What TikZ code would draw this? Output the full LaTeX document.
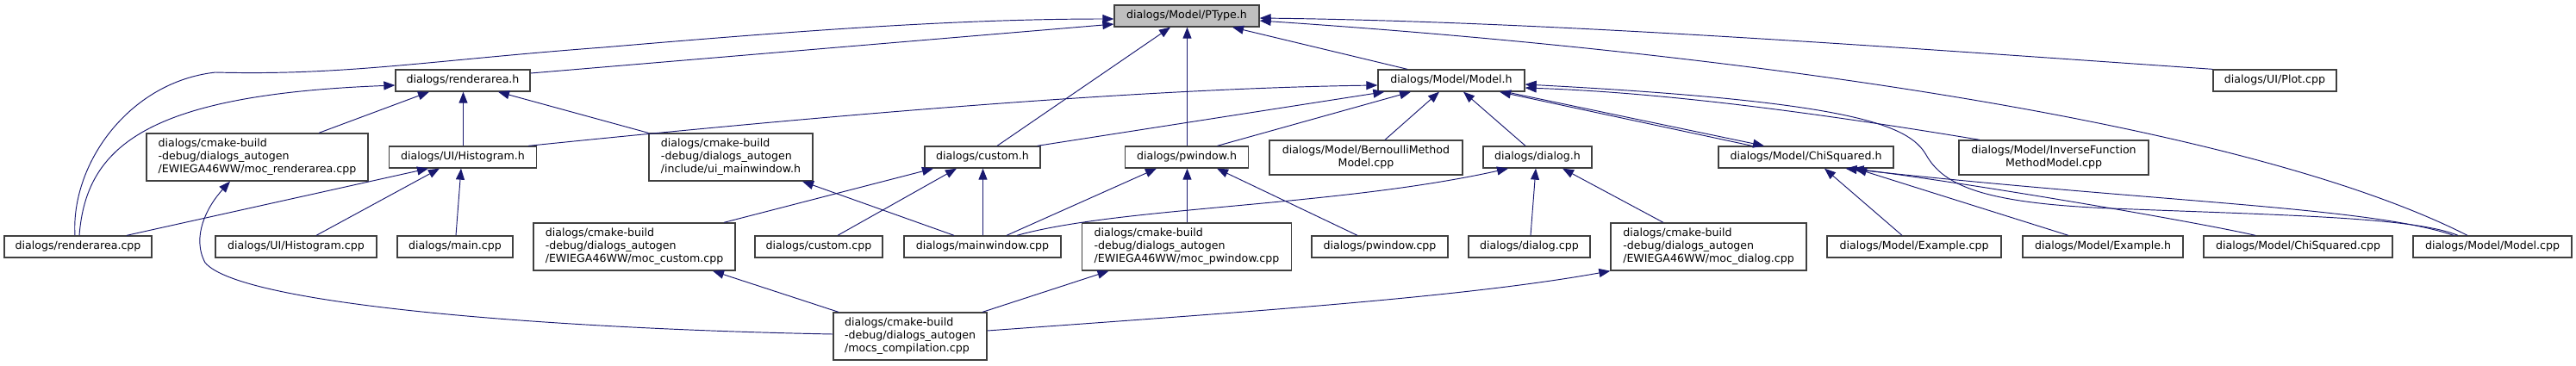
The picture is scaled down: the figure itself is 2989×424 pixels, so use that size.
\documentclass[tikz,border=0pt]{standalone}
\usepackage{fontspec}
\setmainfont{DejaVu Sans}
\usetikzlibrary{arrows.meta}
\definecolor{edgeblue}{HTML}{191970}
\definecolor{rootgray}{HTML}{BFBFBF}
\tikzset{
  filebox/.style={draw=black!75, line width=1.3pt, fill=white, inner sep=0pt,
    minimum height=25pt, font=\fontsize{12.6}{15}\selectfont},
  mocbox/.style={filebox, minimum height=55pt, align=left},
  dep/.style={edgeblue, line width=0.95pt, -{Triangle[length=13pt,width=10pt]}},
}

\begin{document}
\begin{tikzpicture}[x=1pt,y=-1pt]
\useasboundingbox (0,0) rectangle (2989,424);
% Included header
\node[filebox, fill=rootgray, minimum width=168pt] (ptype) at (1377,18.5) {dialogs/Model/PType.h};
% One-line files
\foreach \n/\x/\y/\w/\t in {
  rah/537/93.5/156/{dialogs/renderarea.h},
  modelh/1684/93.5/170/{dialogs/Model/Model.h},
  plot/2639.5/93.5/143/{dialogs/UI/Plot.cpp},
  histh/537/182.5/171/{dialogs/UI/Histogram.h},
  customh/1140/182.5/134/{dialogs/custom.h},
  pwinh/1377/182.5/143/{dialogs/pwindow.h},
  dialogh/1784/182.5/126/{dialogs/dialog.h},
  chih/2095.5/182.5/203/{dialogs/Model/ChiSquared.h},
  racpp/90.5/286.5/171/{dialogs/renderarea.cpp},
  histcpp/343.5/286.5/187/{dialogs/UI/Histogram.cpp},
  maincpp/528/286.5/134/{dialogs/main.cpp},
  customcpp/950/286.5/148/{dialogs/custom.cpp},
  mwcpp/1140/286.5/182/{dialogs/mainwindow.cpp},
  pwcpp/1601/286.5/158/{dialogs/pwindow.cpp},
  dialogcpp/1774.5/286.5/141/{dialogs/dialog.cpp},
  excpp/2221/286.5/202/{dialogs/Model/Example.cpp},
  exh/2440/286.5/186/{dialogs/Model/Example.h},
  chicpp/2666.5/286.5/219/{dialogs/Model/ChiSquared.cpp},
  modelcpp/2892/286.5/184/{dialogs/Model/Model.cpp}} {
  \node[filebox, minimum width=\w pt] (\n) at (\x,\y) {\t};
}
% Two-line files
\node[filebox, minimum width=224pt, minimum height=40pt, align=center] (bern) at (1585,183) {dialogs/Model/BernoulliMethod\\Model.cpp};
\node[filebox, minimum width=220pt, minimum height=40pt, align=center] (invf) at (2383,183) {dialogs/Model/InverseFunction\\MethodModel.cpp};
% Generated files
\node[mocbox, minimum width=257pt] (mocra) at (298.5,182.5) {dialogs/cmake-build\\-debug/dialogs\_autogen\\/EWIEGA46WW/moc\_renderarea.cpp};
\node[mocbox, minimum width=190pt] (uimw) at (848,182.5) {dialogs/cmake-build\\-debug/dialogs\_autogen\\/include/ui\_mainwindow.h};
\node[mocbox, minimum width=234pt] (moccus) at (736,286.5) {dialogs/cmake-build\\-debug/dialogs\_autogen\\/EWIEGA46WW/moc\_custom.cpp};
\node[mocbox, minimum width=243pt] (mocpw) at (1377,286.5) {dialogs/cmake-build\\-debug/dialogs\_autogen\\/EWIEGA46WW/moc\_pwindow.cpp};
\node[mocbox, minimum width=227pt] (mocdlg) at (1982.5,286.5) {dialogs/cmake-build\\-debug/dialogs\_autogen\\/EWIEGA46WW/moc\_dialog.cpp};
\node[mocbox, minimum width=178pt] (mocs) at (1056,390.5) {dialogs/cmake-build\\-debug/dialogs\_autogen\\/mocs\_compilation.cpp};

% Into PType.h
\draw[dep] ([yshift=8.5pt]rah.east) -- ([yshift=-9.5pt]ptype.west);
\draw[dep] ([xshift=-3.5pt]racpp.north) .. controls (82,190) and (150,95) .. (250,84)
  .. controls (400,88) and (500,70) .. (700,55) .. controls (900,38) and (1100,22) .. ([yshift=-3.5pt]ptype.west);
\draw[dep] ([xshift=17pt]customh.north) -- ([xshift=-19pt]ptype.south);
\draw[dep] ([xshift=0.5pt]pwinh.north) -- ([xshift=0.5pt]ptype.south);
\draw[dep] ([xshift=-51pt]modelh.north) -- ([xshift=53pt]ptype.south);
\draw[dep] (plot.north west) .. controls (2200,55) and (1800,25) .. ([yshift=-2.5pt]ptype.east);
\draw[dep] ([xshift=-29pt]modelcpp.north) .. controls (2600,140) and (2000,60) .. ([yshift=-5.5pt]ptype.east);
% Into renderarea.h
\draw[dep] ([xshift=1.5pt]racpp.north) .. controls (100,170) and (170,110) .. ([yshift=-5.5pt]rah.west);
\draw[dep] ([xshift=71.5pt]mocra.north) -- ([xshift=-39pt]rah.south);
\draw[dep] ([xshift=0.5pt]histh.north) -- ([xshift=0.5pt]rah.south);
\draw[dep] (uimw.north west) -- ([xshift=41pt]rah.south);
% Into UI/Histogram.h
\draw[dep] ([xshift=56.5pt]racpp.north) -- ([xshift=-40pt]histh.south);
\draw[dep] ([xshift=23.5pt]histcpp.north) -- ([xshift=-27pt]histh.south);
\draw[dep] ([xshift=1pt]maincpp.north) -- ([xshift=-2pt]histh.south);
% Into Model.h
\draw[dep] ([xshift=-10pt]histh.north east) .. controls (900,140) and (1300,103) .. ([yshift=-5.5pt]modelh.west);
\draw[dep] ([xshift=-4pt]customh.north east) -- ([xshift=8pt]modelh.south west);
\draw[dep] ([xshift=35.5pt]pwinh.north) -- ([xshift=-47pt]modelh.south);
\draw[dep] ([xshift=22pt]bern.north) -- ([xshift=-14pt]modelh.south);
\draw[dep] ([xshift=-14pt]dialogh.north) -- ([xshift=14pt]modelh.south);
\draw[dep] ([xshift=-62.5pt]chih.north) -- ([xshift=56pt]modelh.south);
\draw[dep] ([xshift=63pt]modelh.south) -- ([xshift=-48.5pt]chih.north);
\draw[dep] ([xshift=-40pt]modelcpp.north) .. controls (2800,252) and (2650,250) .. (2450,242)
  .. controls (2300,236) and (2255,215) .. (2235,180) .. controls (2215,145) and (2150,118) .. ([yshift=-4.5pt]modelh.east);
\draw[dep] ([xshift=-86pt]invf.north) .. controls (2150,138) and (1950,108) .. ([yshift=-8.5pt]modelh.east);
% Into custom.h, ui_mainwindow.h, pwindow.h
\draw[dep] ([xshift=104pt]moccus.north) -- ([xshift=-57pt]customh.south);
\draw[dep] ([xshift=22pt]customcpp.north) -- ([xshift=-30pt]customh.south);
\draw[dep] ([xshift=0.5pt]mwcpp.north) -- ([xshift=0.5pt]customh.south);
\draw[dep] ([xshift=-33pt]mwcpp.north) -- ([xshift=83pt]uimw.south);
\draw[dep] ([xshift=28pt]mwcpp.north) -- ([xshift=-35pt]pwinh.south);
\draw[dep] ([xshift=0.5pt]mocpw.north) -- ([xshift=0.5pt]pwinh.south);
\draw[dep] ([xshift=-26pt]pwcpp.north) -- ([xshift=35pt]pwinh.south);
% Into dialog.h
\draw[dep] ([xshift=40pt]mwcpp.north) .. controls (1300,240) and (1550,240) .. ([xshift=-34pt]dialogh.south);
\draw[dep] ([xshift=1.5pt]dialogcpp.north) -- ([xshift=-2pt]dialogh.south);
\draw[dep] ([xshift=-52.5pt]mocdlg.north) -- ([xshift=29pt]dialogh.south);
% Into ChiSquared.h
\draw[dep] ([xshift=-14pt]excpp.north) -- ([xshift=21.5pt]chih.south);
\draw[dep] ([xshift=-40pt]exh.north) -- ([xshift=57.5pt]chih.south);
\draw[dep] ([xshift=-49.5pt]chicpp.north) .. controls (2550,258) and (2300,215) .. ([xshift=54pt]chih.south);
\draw[dep] ([xshift=-45pt]modelcpp.north) .. controls (2750,240) and (2500,235) .. ([xshift=46pt]chih.south);
% Into moc files
\draw[dep] ([yshift=2.5pt]mocs.west) .. controls (650,382) and (280,355) .. (238,305)
  .. controls (222,275) and (240,240) .. ([xshift=-31.5pt]mocra.south);
\draw[dep] ([xshift=-83pt]mocs.north) -- ([xshift=91pt]moccus.south);
\draw[dep] ([xshift=84pt]mocs.north) -- ([xshift=-90.5pt]mocpw.south);
\draw[dep] ([yshift=6.5pt]mocs.east) .. controls (1450,362) and (1700,345) .. (mocdlg.south west);
\end{tikzpicture}
\end{document}
